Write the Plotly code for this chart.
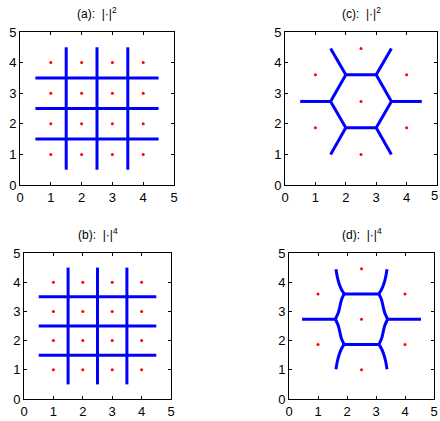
import plotly.graph_objects as go

# lattice points, square grid (a), (b)
sq_px = [1, 2, 3, 4, 1, 2, 3, 4, 1, 2, 3, 4, 1, 2, 3, 4]
sq_py = [1, 1, 1, 1, 2, 2, 2, 2, 3, 3, 3, 3, 4, 4, 4, 4]

# cell boundaries, square grid
sq_lx = [1.5, 1.5, None, 2.5, 2.5, None, 3.5, 3.5, None,
         0.5, 4.5, None, 0.5, 4.5, None, 0.5, 4.5]
sq_ly = [0.5, 4.5, None, 0.5, 4.5, None, 0.5, 4.5, None,
         1.5, 1.5, None, 2.5, 2.5, None, 3.5, 3.5]

# lattice points, hexagonal grid (c), (d)
hex_px = [2.5, 1.0, 4.0, 2.5, 1.0, 4.0, 2.5]
hex_py = [1.0, 1.87, 1.87, 2.73, 3.6, 3.6, 4.46]

# cell boundaries for |.|^2
hex2_lx = [2, 3, 3.5, 3, 2, 1.5, 2, None, 0.5, 1.5, None, 3.5, 4.5, None,
           2, 1.5, None, 3, 3.5, None, 2, 1.5, None, 3, 3.5]
hex2_ly = [1.87, 1.87, 2.73, 3.6, 3.6, 2.73, 1.87, None, 2.73, 2.73, None, 2.73, 2.73, None,
           3.6, 4.46, None, 3.6, 4.46, None, 1.87, 1.0, None, 1.87, 1.0]

# cell boundaries for |.|^4 (curved sides)
hex4_lx = [1.62, 1.67, 1.74, 1.81, 1.90, None,
           1.90, 1.81, 1.75, 1.70, 1.60, None,
           1.60, 1.70, 1.75, 1.81, 1.90, None,
           1.90, 1.81, 1.74, 1.67, 1.62, None,
           3.38, 3.33, 3.26, 3.19, 3.10, None,
           3.10, 3.19, 3.25, 3.30, 3.40, None,
           3.40, 3.30, 3.25, 3.19, 3.10, None,
           3.10, 3.19, 3.26, 3.33, 3.38, None,
           1.90, 3.10, None, 1.90, 3.10, None,
           0.45, 1.60, None, 3.40, 4.55]
hex4_ly = [1.02, 1.30, 1.55, 1.72, 1.87, None,
           1.87, 2.06, 2.31, 2.51, 2.73, None,
           2.73, 2.95, 3.15, 3.40, 3.60, None,
           3.60, 3.75, 3.91, 4.16, 4.44, None,
           1.02, 1.30, 1.55, 1.72, 1.87, None,
           1.87, 2.06, 2.31, 2.51, 2.73, None,
           2.73, 2.95, 3.15, 3.40, 3.60, None,
           3.60, 3.75, 3.91, 4.16, 4.44, None,
           1.87, 1.87, None, 3.60, 3.60, None,
           2.73, 2.73, None, 2.73, 2.73]

titles = ["(a):  |\u00b7|<sup>2</sup>", "(c):  |\u00b7|<sup>2</sup>",
          "(b):  |\u00b7|<sup>4</sup>", "(d):  |\u00b7|<sup>4</sup>"]

W, H = 440, 421
# panel boxes in pixels: left, right, top, bottom
boxes = [(20, 174, 32, 185), (285, 437, 32, 185),
         (24, 171, 253, 399), (289, 434, 253, 399)]

panels = [(sq_px, sq_py, sq_lx, sq_ly, "linear"),
          (hex_px, hex_py, hex2_lx, hex2_ly, "linear"),
          (sq_px, sq_py, sq_lx, sq_ly, "linear"),
          (hex_px, hex_py, hex4_lx, hex4_ly, "spline")]

fig = go.Figure()
layout = dict(width=W, height=H, margin=dict(l=0, r=0, t=0, b=0),
              paper_bgcolor="white", plot_bgcolor="white", showlegend=False,
              font=dict(family="Liberation Sans, Arial", size=12, color="black"))
annotations = []

for i, (px, py, lx, ly, shape) in enumerate(panels):
    n = "" if i == 0 else str(i + 1)
    l, r, t, b = boxes[i]
    fig.add_trace(go.Scatter(x=lx, y=ly, mode="lines", xaxis="x" + n, yaxis="y" + n,
                             line=dict(color="#0000ff", width=3, shape=shape, smoothing=0.8),
                             hoverinfo="skip"))
    fig.add_trace(go.Scatter(x=px, y=py, mode="markers", xaxis="x" + n, yaxis="y" + n,
                             marker=dict(color="#ff0000", size=3)))
    ax = dict(range=[0, 5], dtick=1, showgrid=False, zeroline=False, showline=True,
              linecolor="black", linewidth=1, mirror="ticks", ticks="inside",
              ticklen=3, tickcolor="black", tickfont=dict(size=13), fixedrange=True,
              automargin=False)
    layout["xaxis" + n] = dict(ax, domain=[l / W, r / W], anchor="y" + n)
    layout["yaxis" + n] = dict(ax, domain=[1 - b / H, 1 - t / H], anchor="x" + n)
    annotations.append(dict(text=titles[i], x=(l + r) / 2 / W, y=1 - (t - 9) / H,
                            xref="paper", yref="paper", showarrow=False,
                            xanchor="center", yanchor="bottom", font=dict(size=12)))

# last x tick label of panel (c) sits on the page edge and is dropped by plotly
annotations.append(dict(text="5", x=1, y=1 - 185 / H, xref="paper", yref="paper",
                        yanchor="top", xanchor="right", showarrow=False,
                        yshift=-1, font=dict(size=13)))

layout["annotations"] = annotations
fig.update_layout(**layout)
fig.write_html("out.html", config={"displayModeBar": False},
               post_script="document.body.style.margin='0';")
